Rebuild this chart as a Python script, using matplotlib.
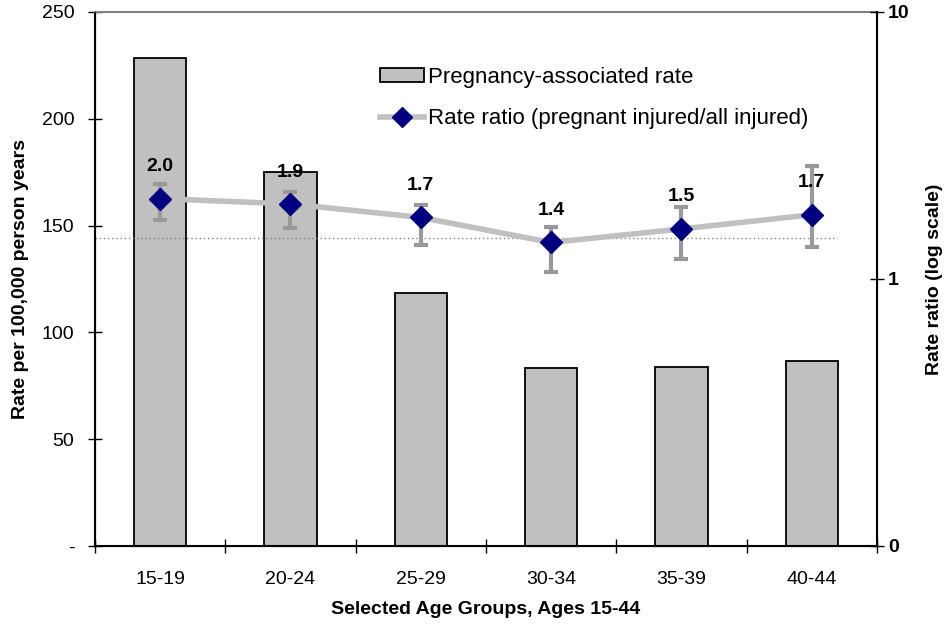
import matplotlib
matplotlib.use('Agg')
import matplotlib.pyplot as plt
from matplotlib.patches import Patch
from matplotlib.lines import Line2D
import numpy as np

plt.rcParams['font.family'] = ['Liberation Sans', 'DejaVu Sans']

# data
age_groups = ['15-19', '20-24', '25-29', '30-34', '35-39', '40-44']
preg_rate = [228.6, 175.1, 118.4, 83.3, 84.0, 86.6]          # per 100,000 person years
rate_ratio = [2.00, 1.91, 1.70, 1.37, 1.54, 1.74]             # pregnant injured / all injured
ci_lower = [1.66, 1.55, 1.34, 1.06, 1.19, 1.32]
ci_upper = [2.26, 2.11, 1.90, 1.57, 1.86, 2.66]
overall_ratio = 1.43

left_ticks = [0, 50, 100, 150, 200, 250]
left_ticklabels = ['-', '50', '100', '150', '200', '250']
right_ticks = [0.1, 1, 10]
right_ticklabels = ['0', '1', '10']

BAR_GREY = '#C0C0C0'
ERR_GREY = '#999999'
NAVY = '#000080'

fig = plt.figure(figsize=(9.48, 6.24), dpi=100)
ax = fig.add_axes([0.1002, 0.125, 0.8249, 0.8558])

x = np.arange(len(age_groups))

# bars - pregnancy-associated rate
ax.bar(x, preg_rate, width=0.4, color=BAR_GREY, edgecolor='black', linewidth=1.3, zorder=2)
ax.set_xlim(-0.5, len(age_groups) - 0.5)
ax.set_ylim(0, 250)
ax.set_yticks(left_ticks)
ax.set_yticklabels(left_ticklabels, fontsize=14)

# category ticks sit on the boundaries, labels in the middle
ax.set_xticks(np.arange(-0.5, len(age_groups)), minor=False)
ax.set_xticklabels([])
ax.set_xticks(x, minor=True)
ax.set_xticklabels(age_groups, minor=True, fontsize=14)
ax.tick_params(axis='x', which='major', direction='inout', length=10, width=1)
ax.tick_params(axis='x', which='minor', length=0, pad=18)
ax.tick_params(axis='y', direction='inout', length=10, width=1, pad=10)

ax.spines['top'].set_color('#808080')
ax.spines['top'].set_linewidth(1.5)
for s in ['left', 'bottom']:
    ax.spines[s].set_linewidth(1.5)

ax.set_ylabel('Rate per 100,000 person years', fontsize=14, fontweight='bold')
ax.yaxis.set_label_coords(-0.085, 0.5)
ax.set_xlabel('Selected Age Groups, Ages 15-44', fontsize=14, fontweight='bold')
ax.xaxis.set_label_coords(0.5, -0.103)

# rate ratio on log scale
ax2 = ax.twinx()
ax2.set_yscale('log')
ax2.set_ylim(0.1, 10)
ax2.set_yticks(right_ticks)
ax2.set_yticklabels(right_ticklabels, fontsize=14, fontweight='bold')
ax2.yaxis.set_minor_locator(matplotlib.ticker.NullLocator())
ax2.tick_params(axis='y', direction='inout', length=10, width=1, pad=3)
ax2.spines['top'].set_visible(False)
ax2.spines['right'].set_linewidth(1.5)
ax2.set_ylabel('Rate ratio (log scale)', fontsize=14, fontweight='bold', rotation=90)
ax2.yaxis.set_label_coords(1.063, 0.5)

ax2.hlines(overall_ratio, -0.5, 5.19, colors='#808080', linestyles=(0, (1, 2)),
           linewidth=1, zorder=1)
ax2.plot(x, rate_ratio, color=BAR_GREY, linewidth=4, zorder=3)
yerr = [np.array(rate_ratio) - np.array(ci_lower), np.array(ci_upper) - np.array(rate_ratio)]
ax2.errorbar(x, rate_ratio, yerr=yerr, fmt='none', ecolor=ERR_GREY, elinewidth=3,
             capsize=4.7, capthick=3, zorder=4)
ax2.plot(x, rate_ratio, 'D', color=NAVY, markersize=11, zorder=5)

for xi, v in zip(x, rate_ratio):
    ax2.annotate(f'{v:.1f}', (xi, v), xytext=(0, 23), textcoords='offset points',
                 ha='center', va='center', fontsize=14, fontweight='bold', zorder=6)

handles = [
    Patch(facecolor=BAR_GREY, edgecolor='black', linewidth=1.3),
    Line2D([0], [0], color=BAR_GREY, linewidth=4, marker='D', markersize=10,
           markerfacecolor=NAVY, markeredgecolor=NAVY),
]
labels = ['Pregnancy-associated rate', 'Rate ratio (pregnant injured/all injured)']
fig.legend(handles, labels, loc='upper left', bbox_to_anchor=(0.391, 0.907),
           frameon=False, fontsize=16, handlelength=2.0, handleheight=0.55,
           handletextpad=0.2, labelspacing=0.9, borderaxespad=0)

fig.savefig('out.png', dpi=100)
